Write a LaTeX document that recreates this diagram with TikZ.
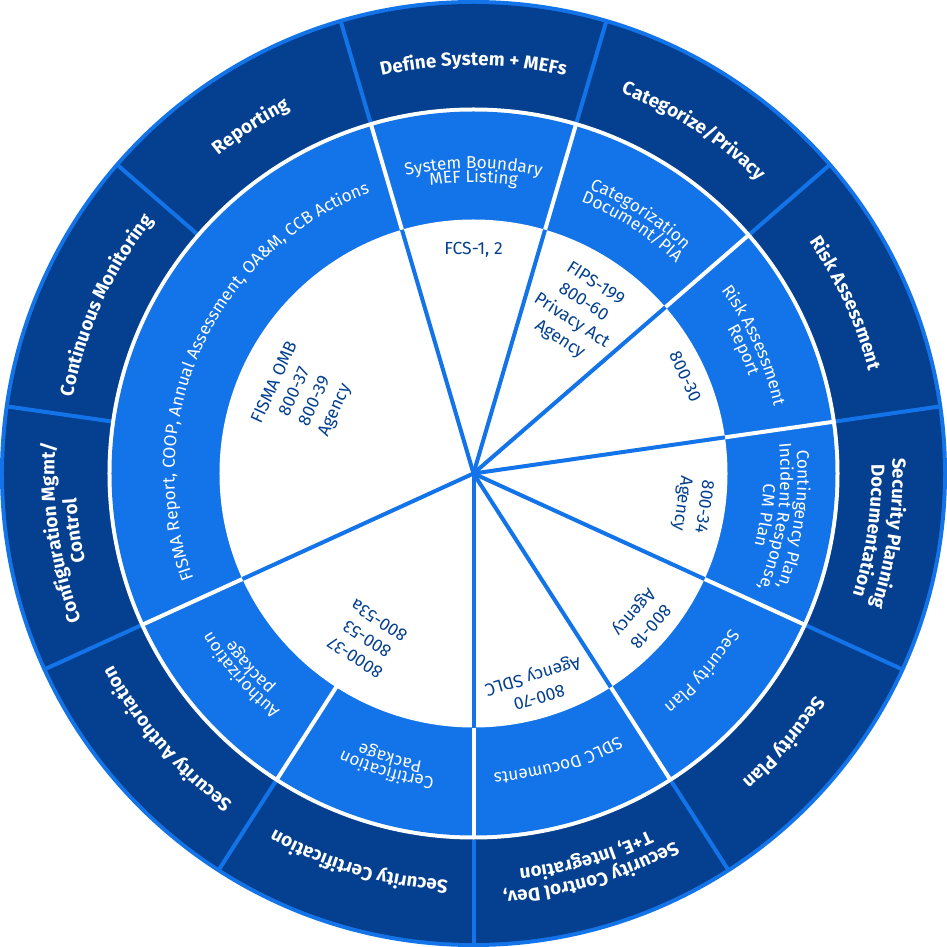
\documentclass[tikz,border=0pt]{standalone}
\usepackage{fontspec}
\setmainfont{Fira Sans}
\usetikzlibrary{decorations.text}
\definecolor{wheelnavy}{HTML}{04408F}
\definecolor{wheelblue}{HTML}{1373E8}
\newcommand{\ringbold}{\fontsize{18.8}{22}\selectfont\bfseries\color{white}}
\newcommand{\ringlight}{\fontsize{17.2}{20}\selectfont\color{white}}
% text on a clockwise arc: mid angle, radius, font, text
\newcommand{\arclabel}[4]{%
  \path[decorate,decoration={text along path,text align=center,
    text={|#3|#4}}] ({#1+70}:#2) arc[start angle={#1+70},end angle={#1-70},radius=#2];}

\begin{document}
\begin{tikzpicture}[
  x=1pt,y=1pt,
  ringline/.style={draw=wheelblue,line width=4pt},
  gapline/.style={draw=white,line width=4pt},
  spokeline/.style={draw=wheelblue,line width=4pt},
  innertxt/.style={text=wheelnavy,align=center,inner sep=0pt,
    font=\fontsize{17.5}{22}\selectfont}
]
  \useasboundingbox (-473.5,-473.5) rectangle (473.5,473.5);
  % rings
  \fill[wheelblue] (0,0) circle[radius=473.5];
  \fill[wheelnavy] (0,0) circle[radius=469.5];
  \foreach \k in {0,...,10}
    \draw[ringline] ({-90+\k*360/11}:366) -- ({-90+\k*360/11}:470);
  \fill[white] (0,0) circle[radius=366];
  \fill[wheelblue] (0,0) circle[radius=362];
  \foreach \k in {0,1,2,3,4,5,6,9,10}
    \draw[gapline] ({-90+\k*360/11}:252) -- ({-90+\k*360/11}:364);
  \fill[white] (0,0) circle[radius=254];
  \foreach \k in {0,1,2,3,4,5,6,9}
    \draw[spokeline] (0,0) -- ({-90+\k*360/11}:254);

  % outer ring
  \arclabel{90}{408}{\ringbold}{Define System + MEFs}
  \arclabel{57.27}{408}{\ringbold}{Categorize/Privacy}
  \arclabel{24.55}{408}{\ringbold}{Risk Assessment}
  \arclabel{-8.18}{419}{\ringbold}{Security Planning}
  \arclabel{-8.18}{398}{\ringbold}{Documentation}
  \arclabel{-40.91}{408}{\ringbold}{Security Plan}
  \arclabel{-73.64}{419}{\ringbold}{Security Control Dev,}
  \arclabel{-73.64}{398}{\ringbold}{T+E, Integration}
  \arclabel{253.64}{408}{\ringbold}{Security Certification}
  \arclabel{220.91}{408}{\ringbold}{Security Authoriation}
  \arclabel{188.18}{419}{\ringbold}{Configuration Mgmt/}
  \arclabel{188.18}{398}{\ringbold}{Control}
  \arclabel{155.45}{408}{\ringbold}{Continuous Monitoring}
  \arclabel{122.73}{408}{\ringbold}{Reporting}

  % middle ring
  \arclabel{90}{305}{\ringlight}{System Boundary}
  \arclabel{90}{291}{\ringlight}{MEF Listing}
  \arclabel{57.27}{307}{\ringlight}{Categorization}
  \arclabel{57.27}{292}{\ringlight}{Document/PIA}
  \arclabel{24.55}{308}{\ringlight}{Risk Assessment}
  \arclabel{24.55}{292}{\ringlight}{Report}
  \arclabel{-8.18}{324}{\ringlight}{Contingency Plan,}
  \arclabel{-8.18}{307}{\ringlight}{Incident Response,}
  \arclabel{-8.18}{290}{\ringlight}{CM Plan}
  \arclabel{-40.91}{300}{\ringlight}{Security Plan}
  \arclabel{-73.64}{300}{\ringlight}{SDLC Documents}
  \arclabel{253.64}{306}{\ringlight}{Certification}
  \arclabel{253.64}{292}{\ringlight}{Package}
  \arclabel{220.91}{306}{\ringlight}{Authorization}
  \arclabel{220.91}{292}{\ringlight}{package}
  \arclabel{155.45}{299}{\ringlight}{FISMA Report, COOP, Annual Assessment, OA{\&}M, CCB Actions}

  % inner sectors
  \node[innertxt] (fcs) at (90:224) {FCS-1, 2};
  \node[innertxt,rotate=-32.73] (fips) at (57.27:192) {FIPS-199\\800-60\\Privacy Act\\Agency};
  \node[innertxt,rotate=-65.45] (sp30) at (24.55:233) {800-30};
  \node[innertxt,rotate=-98.18] (sp34) at (-8.18:221) {800-34\\Agency};
  \node[innertxt,rotate=-130.91] (sp18) at (-40.91:222) {800-18\\Agency};
  \node[innertxt,rotate=-163.64] (sp70) at (-73.64:221) {800-70\\Agency SDLC};
  \node[innertxt,rotate=147.27] (sp37) at (237.27:197) {8000-37\\800-53\\800-53a};
  \node[innertxt,rotate=65.45] (fisma) at (155.45:185) {FISMA OMB\\800-37\\800-39\\Agency};
\end{tikzpicture}
\end{document}
